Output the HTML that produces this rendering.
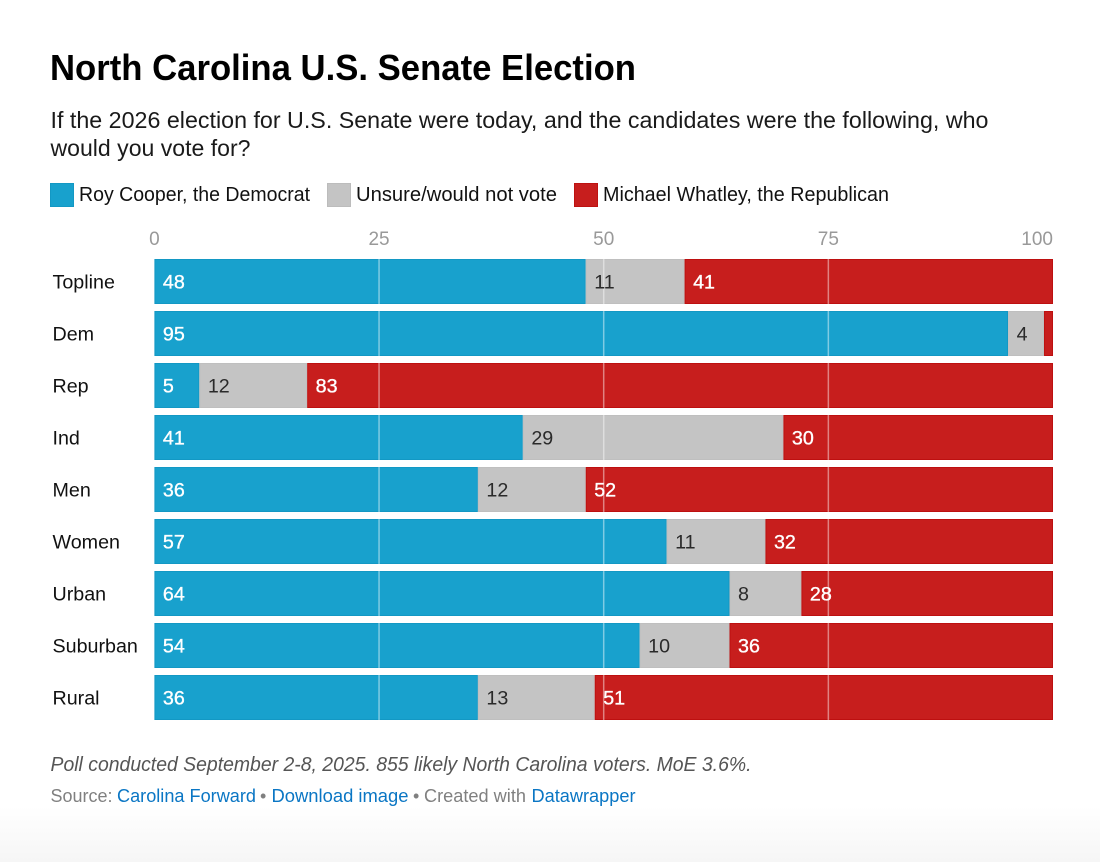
<!DOCTYPE html>
<html lang="en">
<head>
<meta charset="utf-8">
<title>North Carolina U.S. Senate Election</title>
<style>
html,body{margin:0;padding:0;background:#fff;width:1100px;height:862px;overflow:hidden}
svg{display:block;font-family:"Liberation Sans",sans-serif}
a{cursor:pointer}
</style>
</head>
<body>
<svg id="chart" xmlns="http://www.w3.org/2000/svg" width="1100" height="862" viewBox="0 0 1100 862">
<defs>
<linearGradient id="fade" x1="0" y1="0" x2="0" y2="1"><stop offset="0" stop-color="#ffffff"/><stop offset="1" stop-color="#f6f6f6"/></linearGradient>
</defs>
<rect x="0" y="806" width="1100" height="56" fill="url(#fade)"/>
<text x="50" y="80" font-size="36" font-weight="700" fill="#000" textLength="586" lengthAdjust="spacingAndGlyphs">North Carolina U.S. Senate Election</text>
<text x="50.5" y="128" font-size="23" fill="#1a1a1a" textLength="938" lengthAdjust="spacingAndGlyphs">If the 2026 election for U.S. Senate were today, and the candidates were the following, who</text>
<text x="50.5" y="156" font-size="23" fill="#1a1a1a" textLength="200" lengthAdjust="spacingAndGlyphs">would you vote for?</text>
<g>
<rect x="50.5" y="183.500" width="23" height="23" fill="#18a1cd" stroke="#1398c4"/>
<text x="79" y="201" font-size="20" fill="#111" textLength="231" lengthAdjust="spacingAndGlyphs">Roy Cooper, the Democrat</text>
<rect x="327.500" y="183.500" width="23" height="23" fill="#c4c4c4" stroke="#bcbcbc"/>
<text x="356" y="201" font-size="20" fill="#111" textLength="201" lengthAdjust="spacingAndGlyphs">Unsure/would not vote</text>
<rect x="574.500" y="183.500" width="23" height="23" fill="#c71e1d" stroke="#bd1211"/>
<text x="603" y="201" font-size="20" fill="#111" textLength="286" lengthAdjust="spacingAndGlyphs">Michael Whatley, the Republican</text>
</g>
<g id="plot"></g>
<text x="50.5" y="771" font-size="20" font-style="italic" fill="#555" textLength="701" lengthAdjust="spacingAndGlyphs">Poll conducted September 2-8, 2025. 855 likely North Carolina voters. MoE 3.6%.</text>
<g font-size="18">
<text x="50.5" y="802" fill="#808080" textLength="62" lengthAdjust="spacingAndGlyphs">Source:</text>
<text x="117" y="802" fill="#0a76c4" textLength="139" lengthAdjust="spacingAndGlyphs">Carolina Forward</text>
<text x="260" y="802" fill="#808080">•</text>
<text x="271.500" y="802" fill="#0a76c4" textLength="137" lengthAdjust="spacingAndGlyphs">Download image</text>
<text x="413" y="802" fill="#808080">•</text>
<text x="424" y="802" fill="#808080" textLength="102" lengthAdjust="spacingAndGlyphs">Created with</text>
<text x="531.500" y="802" fill="#0a76c4" textLength="104" lengthAdjust="spacingAndGlyphs">Datawrapper</text>
</g>
</svg>
<script>
const categories = ['Topline', 'Dem', 'Rep', 'Ind', 'Men', 'Women', 'Urban', 'Suburban', 'Rural'];
const cooperValues = [48, 95, 5, 41, 36, 57, 64, 54, 36];
const unsureValues = [11, 4, 12, 29, 12, 11, 8, 10, 13];
const whatleyValues = [41, 1, 83, 30, 52, 32, 28, 36, 51];
const tickValues = [0, 25, 50, 75, 100];

const NS = 'http://www.w3.org/2000/svg';
const plot = document.getElementById('plot');
const xScale = function (v) { return 154.4 + v * 8.986; };
const yScale = function (i) { return 259 + i * 52; };
const rowHeight = 45;

function make(tag, attrs, text) {
  const el = document.createElementNS(NS, tag);
  Object.keys(attrs).forEach(function (k) { el.setAttribute(k, attrs[k]); });
  if (text !== undefined) el.textContent = text;
  plot.appendChild(el);
  return el;
}

const seriesList = [
  { key: 'cooper', values: cooperValues, fill: '#18a1cd', edge: '#1398c4', label: '#ffffff', halo: 0.35 },
  { key: 'unsure', values: unsureValues, fill: '#c4c4c4', edge: '#bfbfbf', label: '#2a2a2a', halo: 0 },
  { key: 'whatley', values: whatleyValues, fill: '#c71e1d', edge: '#bd1010', label: '#ffffff', halo: 0.35 }
];

categories.forEach(function (cat, i) {
  const y = yScale(i);
  const rowLabel = make('text', { x: 52.5, y: y + 29.5, 'font-size': 19.7, fill: '#111' }, cat);
  
  
  let start = 0;
  seriesList.forEach(function (s) {
    const v = s.values[i];
    const bar = make('rect', { x: xScale(start) + 0.5, y: y + 0.5, width: Math.max(xScale(start + v) - xScale(start) - 1, 0), height: rowHeight - 1, fill: s.fill, stroke: s.edge, 'stroke-width': 1 });
    
    
    start += v;
  });
});

tickValues.forEach(function (t) {
  const x = xScale(t);
  if (t > 0 && t < 100) {
    const grid = make('line', { x1: x, x2: x, y1: 259, y2: yScale(categories.length - 1) + rowHeight, stroke: '#ffffff', 'stroke-opacity': 0.45, 'stroke-width': 1.5 });
    
    
  }
  const anchor = t === 100 ? 'end' : 'middle';
  const tick = make('text', { x: x, y: 245, 'font-size': 19, fill: '#999999', 'text-anchor': anchor }, String(t));
  
  
});

categories.forEach(function (cat, i) {
  const y = yScale(i);
  let start = 0;
  seriesList.forEach(function (s) {
    const v = s.values[i];
    if (v >= 2) {
      const val = make('text', { x: xScale(start) + 8.5, y: y + 29.5, 'font-size': 19.7, fill: s.label, stroke: s.label, 'stroke-width': s.halo }, String(v));
      
      
    }
    start += v;
  });
});
</script>
</body>
</html>
